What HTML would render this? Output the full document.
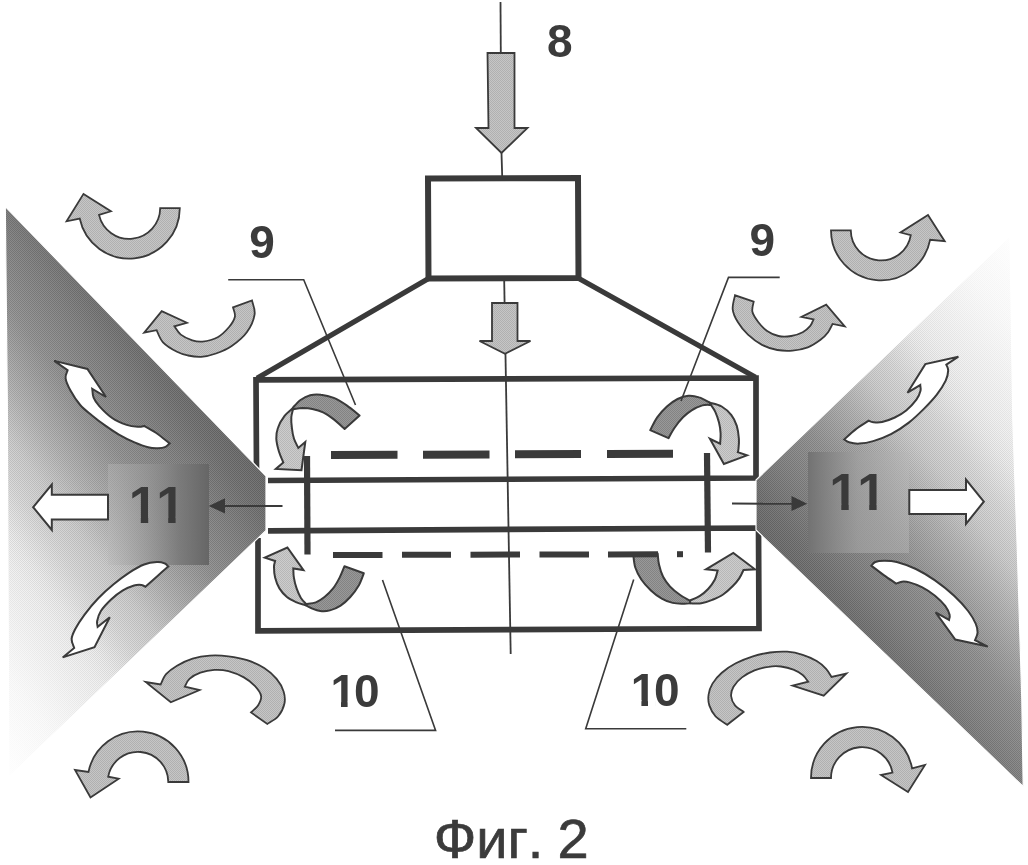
<!DOCTYPE html>
<html lang="ru">
<head>
<meta charset="utf-8">
<title>Фиг. 2</title>
<style>
html,body{margin:0;padding:0;background:#fff;}
body{width:1028px;height:865px;overflow:hidden;}
svg{display:block;}
text{font-family:"Liberation Sans",sans-serif;}
</style>
</head>
<body>
<svg width="1028" height="865" viewBox="0 0 1028 865">
<defs>
<pattern id="pc" width="2" height="2" patternUnits="userSpaceOnUse"><rect width="1" height="1" fill="#fff"/><rect x="1" y="1" width="1" height="1" fill="#fff"/></pattern>
<mask id="chk" maskUnits="userSpaceOnUse" x="0" y="0" width="1028" height="865"><rect width="1028" height="865" fill="url(#pc)"/></mask>
<linearGradient id="gl" gradientUnits="userSpaceOnUse" x1="5" y1="790" x2="325" y2="550"><stop offset="0.0" stop-color="#ffffff"/><stop offset="0.075" stop-color="#fdfdfd"/><stop offset="0.175" stop-color="#fafafa"/><stop offset="0.225" stop-color="#f7f7f7"/><stop offset="0.35" stop-color="#f0f0f0"/><stop offset="0.39" stop-color="#ededed"/><stop offset="0.465" stop-color="#dbdbdb"/><stop offset="0.535" stop-color="#cfcfcf"/><stop offset="0.615" stop-color="#b7b7b7"/><stop offset="0.68" stop-color="#a6a6a6"/><stop offset="0.733" stop-color="#999999"/><stop offset="0.843" stop-color="#898989"/><stop offset="0.925" stop-color="#7b7b7b"/><stop offset="1.0" stop-color="#737373"/></linearGradient>
<linearGradient id="gr" gradientUnits="userSpaceOnUse" x1="1017" y1="218.6" x2="697" y2="458.6"><stop offset="0.0" stop-color="#ffffff"/><stop offset="0.075" stop-color="#fdfdfd"/><stop offset="0.175" stop-color="#fafafa"/><stop offset="0.225" stop-color="#f7f7f7"/><stop offset="0.35" stop-color="#f0f0f0"/><stop offset="0.39" stop-color="#ededed"/><stop offset="0.465" stop-color="#dbdbdb"/><stop offset="0.535" stop-color="#cfcfcf"/><stop offset="0.615" stop-color="#b7b7b7"/><stop offset="0.68" stop-color="#a6a6a6"/><stop offset="0.733" stop-color="#999999"/><stop offset="0.843" stop-color="#898989"/><stop offset="0.925" stop-color="#7b7b7b"/><stop offset="1.0" stop-color="#737373"/></linearGradient>
<linearGradient id="gld" gradientUnits="userSpaceOnUse" x1="5" y1="790" x2="325" y2="550"><stop offset="0.0" stop-color="#ffffff"/><stop offset="0.075" stop-color="#fbfbfb"/><stop offset="0.175" stop-color="#f4f4f4"/><stop offset="0.225" stop-color="#efefef"/><stop offset="0.35" stop-color="#e0e0e0"/><stop offset="0.39" stop-color="#d7d7d7"/><stop offset="0.465" stop-color="#c5c5c5"/><stop offset="0.535" stop-color="#b9b9b9"/><stop offset="0.615" stop-color="#a1a1a1"/><stop offset="0.68" stop-color="#909090"/><stop offset="0.733" stop-color="#838383"/><stop offset="0.843" stop-color="#737373"/><stop offset="0.925" stop-color="#656565"/><stop offset="1.0" stop-color="#5d5d5d"/></linearGradient>
<linearGradient id="grd" gradientUnits="userSpaceOnUse" x1="1017" y1="218.6" x2="697" y2="458.6"><stop offset="0.0" stop-color="#ffffff"/><stop offset="0.075" stop-color="#fbfbfb"/><stop offset="0.175" stop-color="#f4f4f4"/><stop offset="0.225" stop-color="#efefef"/><stop offset="0.35" stop-color="#e0e0e0"/><stop offset="0.39" stop-color="#d7d7d7"/><stop offset="0.465" stop-color="#c5c5c5"/><stop offset="0.535" stop-color="#b9b9b9"/><stop offset="0.615" stop-color="#a1a1a1"/><stop offset="0.68" stop-color="#909090"/><stop offset="0.733" stop-color="#838383"/><stop offset="0.843" stop-color="#737373"/><stop offset="0.925" stop-color="#656565"/><stop offset="1.0" stop-color="#5d5d5d"/></linearGradient>
<linearGradient id="sl" x1="0" y1="0" x2="1" y2="0"><stop offset="0" stop-color="#b8b8b8" stop-opacity="0.4"/><stop offset="0.4" stop-color="#969696" stop-opacity="0.7"/><stop offset="0.7" stop-color="#7a7a7a" stop-opacity="0.9"/><stop offset="1" stop-color="#666666" stop-opacity="1"/></linearGradient>
<linearGradient id="sr" x1="1" y1="0" x2="0" y2="0"><stop offset="0" stop-color="#b8b8b8" stop-opacity="0.45"/><stop offset="0.5" stop-color="#a0a0a0" stop-opacity="0.75"/><stop offset="0.8" stop-color="#848484" stop-opacity="0.9"/><stop offset="1" stop-color="#727272" stop-opacity="1"/></linearGradient>
<clipPath id="c1"><rect x="329.4" y="661.2" width="26.8" height="40.4"/><rect x="341" y="701.3" width="6.6" height="6.9"/><rect x="355.3" y="661.2" width="25.8" height="55.2"/></clipPath>
<clipPath id="c2"><rect x="629.8" y="659.6" width="26.8" height="40.4"/><rect x="641.4" y="699.7" width="6.6" height="6.9"/><rect x="655.5" y="659.6" width="25.8" height="55.2"/></clipPath>
<clipPath id="c3"><rect x="127.8" y="471" width="30.1" height="45.8"/><rect x="140.8" y="516.5" width="7.4" height="7.5"/><rect x="155.2" y="471" width="30.1" height="45.8"/><rect x="168.2" y="516.5" width="7.4" height="7.5"/></clipPath>
<clipPath id="c4"><rect x="828.3" y="458" width="30.1" height="45.8"/><rect x="841.3" y="503.5" width="7.4" height="7.5"/><rect x="856.2" y="458" width="30.1" height="45.8"/><rect x="869.2" y="503.5" width="7.4" height="7.5"/></clipPath>
</defs>
<rect width="1028" height="865" fill="#ffffff"/>
<path d="M293,407.6C294.2,406.3 297.6,402.1 300.5,400C303.4,397.9 306.8,396.1 310.2,395.2C313.6,394.3 317,394.2 320.9,394.7C324.8,395.1 329.5,396.1 333.8,397.9C338.1,399.7 342.4,402.4 346.7,405.4C351,408.3 357.5,413.9 359.6,415.6L344.6,428.9C342.8,427.3 337.4,422.1 333.8,419.4C330.2,416.6 326.7,414.1 323.1,412.4C319.5,410.6 315.7,409.6 312.3,408.9C308.9,408.2 305.8,408.1 302.6,408.1C299.4,408.2 294.6,409 293,409.2Z" fill="#999999"/>
<path d="M293,408C291.6,409.4 286.9,412.9 284.4,416.2C281.9,419.5 279.2,424.2 277.9,428C276.5,431.8 276.1,434.9 276.3,438.8C276.5,442.8 277.8,447.8 279,451.7C280.2,455.6 282.6,460.6 283.3,462.4L275.8,468.9L301.5,470.2L305.3,442L298.3,447.9C297.6,446.4 295.1,442.1 294,438.8C292.9,435.5 292.3,431.6 291.9,428C291.4,424.4 291.1,420.4 291.3,417.3C291.5,414.2 292.7,410.6 293,409.2Z" fill="#cdcdcd"/>
<path d="M709.9,402.7C708.1,401.8 702.7,398.5 699.1,397.4C695.5,396.2 692,395.5 688.4,395.8C684.8,396.1 681.2,397.2 677.6,399C674,400.8 670.3,403.4 666.9,406.5C663.5,409.6 660,413.4 657.2,417.3C654.4,421.2 651.4,428.1 650.2,430.2L668.5,438.2C669.5,436.5 672,431.5 674.4,428C676.8,424.5 680.1,420.2 683,417.3C685.9,414.4 688.4,412.3 691.6,410.3C694.8,408.3 699.2,406.3 702.4,405.4C705.6,404.5 709.6,405 711,404.9Z" fill="#999999"/>
<path d="M709.9,402.7C711.9,403.3 718.1,404.4 721.7,406.5C725.3,408.6 728.9,411.9 731.4,415.1C733.9,418.3 735.5,421.9 736.8,425.9C738,429.8 738.6,434.9 738.9,438.8C739.2,442.7 738.6,447.3 738.4,449.5C738.2,451.7 737.9,451.8 737.8,452.2L747,455.4L723.9,464L709.9,438.8L720.1,443.6C720.2,441.9 720.8,436.9 720.6,433.4C720.4,429.9 719.9,426.2 719,422.6C718.1,419 716.6,414.8 715.3,411.9C714,408.9 711.7,406.1 711,404.9Z" fill="#cdcdcd"/>
<path d="M305.2,605.1C306.3,605.6 309.1,607.3 311.6,608.3C314.1,609.3 317.1,610.6 320.2,611C323.2,611.4 326.5,611.3 329.9,610.4C333.3,609.5 337.2,607.8 340.6,605.6C344,603.4 347.2,600.4 350.3,597C353.4,593.6 356.6,589.2 358.9,585.2C361.1,581.2 363,575.3 363.8,573.3L344.4,566.3C343.6,568.2 341.5,573.9 339.6,577.6C337.7,581.3 335.6,585.2 333.1,588.4C330.6,591.6 327.4,594.7 324.5,597C321.6,599.3 318.9,601.2 315.9,602.4C312.8,603.6 307.8,603.7 306.2,604Z" fill="#999999"/>
<path d="M305.2,605.1C303.8,604.6 299.7,603.8 296.6,602.4C293.6,601 289.8,599.3 286.9,597C284,594.7 281.4,591.6 279.4,588.4C277.4,585.2 276,581.2 275.1,577.6C274.2,574 274,569.7 274,566.9C274,564.1 274.9,562 275.1,561L264.8,557.7L287.4,547.5L303.5,570.1L293.3,568.5C293.4,570 293.3,574.3 293.9,577.6C294.4,580.9 295.4,585 296.6,588.4C297.8,591.8 299.3,595.4 300.9,598C302.5,600.6 305.3,603 306.2,604Z" fill="#cdcdcd"/>
<path d="M690.4,603.3C689.3,603.4 686.5,603.8 683.6,603.7C680.7,603.6 676.3,603.8 672.7,602.9C669.1,602 665.4,600.7 661.8,598.6C658.2,596.5 654.3,593.6 650.9,590.4C647.5,587.2 643.9,583.4 641.3,579.5C638.7,575.6 636.6,571.5 635.2,567.2C633.9,562.9 633.5,555.9 633.2,553.6L657.7,553.6C657.9,555.4 658.1,560.6 659,564.5C659.9,568.4 661.3,573.2 663.1,576.8C664.9,580.4 667.2,583.3 669.9,586.3C672.6,589.2 676.2,592.1 679.5,594.5C682.8,596.9 688,599.6 689.7,600.6Z" fill="#999999"/>
<path d="M690.4,603.3C692.2,603.3 697.7,603.9 701.3,603.3C704.9,602.7 708.6,601.4 712.2,599.9C715.8,598.4 719.7,596.8 723.1,594.5C726.5,592.2 729.9,589 732.6,586.3C735.3,583.6 737.6,580.8 739.4,578.1C741.2,575.4 742.8,571.4 743.5,570L755,569.3L733.3,552.9L706,569.3L717.6,570.6C717.1,572.1 716.5,576.4 714.9,579.5C713.3,582.6 710.6,586.3 708.1,589C705.6,591.7 703,593.9 699.9,595.8C696.8,597.7 691.4,599.8 689.7,600.6Z" fill="#cdcdcd"/>
<g mask="url(#chk)">
<path d="M293,407.6C294.2,406.3 297.6,402.1 300.5,400C303.4,397.9 306.8,396.1 310.2,395.2C313.6,394.3 317,394.2 320.9,394.7C324.8,395.1 329.5,396.1 333.8,397.9C338.1,399.7 342.4,402.4 346.7,405.4C351,408.3 357.5,413.9 359.6,415.6L344.6,428.9C342.8,427.3 337.4,422.1 333.8,419.4C330.2,416.6 326.7,414.1 323.1,412.4C319.5,410.6 315.7,409.6 312.3,408.9C308.9,408.2 305.8,408.1 302.6,408.1C299.4,408.2 294.6,409 293,409.2Z" fill="#838383"/>
<path d="M293,408C291.6,409.4 286.9,412.9 284.4,416.2C281.9,419.5 279.2,424.2 277.9,428C276.5,431.8 276.1,434.9 276.3,438.8C276.5,442.8 277.8,447.8 279,451.7C280.2,455.6 282.6,460.6 283.3,462.4L275.8,468.9L301.5,470.2L305.3,442L298.3,447.9C297.6,446.4 295.1,442.1 294,438.8C292.9,435.5 292.3,431.6 291.9,428C291.4,424.4 291.1,420.4 291.3,417.3C291.5,414.2 292.7,410.6 293,409.2Z" fill="#b7b7b7"/>
<path d="M709.9,402.7C708.1,401.8 702.7,398.5 699.1,397.4C695.5,396.2 692,395.5 688.4,395.8C684.8,396.1 681.2,397.2 677.6,399C674,400.8 670.3,403.4 666.9,406.5C663.5,409.6 660,413.4 657.2,417.3C654.4,421.2 651.4,428.1 650.2,430.2L668.5,438.2C669.5,436.5 672,431.5 674.4,428C676.8,424.5 680.1,420.2 683,417.3C685.9,414.4 688.4,412.3 691.6,410.3C694.8,408.3 699.2,406.3 702.4,405.4C705.6,404.5 709.6,405 711,404.9Z" fill="#838383"/>
<path d="M709.9,402.7C711.9,403.3 718.1,404.4 721.7,406.5C725.3,408.6 728.9,411.9 731.4,415.1C733.9,418.3 735.5,421.9 736.8,425.9C738,429.8 738.6,434.9 738.9,438.8C739.2,442.7 738.6,447.3 738.4,449.5C738.2,451.7 737.9,451.8 737.8,452.2L747,455.4L723.9,464L709.9,438.8L720.1,443.6C720.2,441.9 720.8,436.9 720.6,433.4C720.4,429.9 719.9,426.2 719,422.6C718.1,419 716.6,414.8 715.3,411.9C714,408.9 711.7,406.1 711,404.9Z" fill="#b7b7b7"/>
<path d="M305.2,605.1C306.3,605.6 309.1,607.3 311.6,608.3C314.1,609.3 317.1,610.6 320.2,611C323.2,611.4 326.5,611.3 329.9,610.4C333.3,609.5 337.2,607.8 340.6,605.6C344,603.4 347.2,600.4 350.3,597C353.4,593.6 356.6,589.2 358.9,585.2C361.1,581.2 363,575.3 363.8,573.3L344.4,566.3C343.6,568.2 341.5,573.9 339.6,577.6C337.7,581.3 335.6,585.2 333.1,588.4C330.6,591.6 327.4,594.7 324.5,597C321.6,599.3 318.9,601.2 315.9,602.4C312.8,603.6 307.8,603.7 306.2,604Z" fill="#838383"/>
<path d="M305.2,605.1C303.8,604.6 299.7,603.8 296.6,602.4C293.6,601 289.8,599.3 286.9,597C284,594.7 281.4,591.6 279.4,588.4C277.4,585.2 276,581.2 275.1,577.6C274.2,574 274,569.7 274,566.9C274,564.1 274.9,562 275.1,561L264.8,557.7L287.4,547.5L303.5,570.1L293.3,568.5C293.4,570 293.3,574.3 293.9,577.6C294.4,580.9 295.4,585 296.6,588.4C297.8,591.8 299.3,595.4 300.9,598C302.5,600.6 305.3,603 306.2,604Z" fill="#b7b7b7"/>
<path d="M690.4,603.3C689.3,603.4 686.5,603.8 683.6,603.7C680.7,603.6 676.3,603.8 672.7,602.9C669.1,602 665.4,600.7 661.8,598.6C658.2,596.5 654.3,593.6 650.9,590.4C647.5,587.2 643.9,583.4 641.3,579.5C638.7,575.6 636.6,571.5 635.2,567.2C633.9,562.9 633.5,555.9 633.2,553.6L657.7,553.6C657.9,555.4 658.1,560.6 659,564.5C659.9,568.4 661.3,573.2 663.1,576.8C664.9,580.4 667.2,583.3 669.9,586.3C672.6,589.2 676.2,592.1 679.5,594.5C682.8,596.9 688,599.6 689.7,600.6Z" fill="#838383"/>
<path d="M690.4,603.3C692.2,603.3 697.7,603.9 701.3,603.3C704.9,602.7 708.6,601.4 712.2,599.9C715.8,598.4 719.7,596.8 723.1,594.5C726.5,592.2 729.9,589 732.6,586.3C735.3,583.6 737.6,580.8 739.4,578.1C741.2,575.4 742.8,571.4 743.5,570L755,569.3L733.3,552.9L706,569.3L717.6,570.6C717.1,572.1 716.5,576.4 714.9,579.5C713.3,582.6 710.6,586.3 708.1,589C705.6,591.7 703,593.9 699.9,595.8C696.8,597.7 691.4,599.8 689.7,600.6Z" fill="#b7b7b7"/>
</g>
<path d="M293,407.6C294.2,406.3 297.6,402.1 300.5,400C303.4,397.9 306.8,396.1 310.2,395.2C313.6,394.3 317,394.2 320.9,394.7C324.8,395.1 329.5,396.1 333.8,397.9C338.1,399.7 342.4,402.4 346.7,405.4C351,408.3 357.5,413.9 359.6,415.6L344.6,428.9C342.8,427.3 337.4,422.1 333.8,419.4C330.2,416.6 326.7,414.1 323.1,412.4C319.5,410.6 315.7,409.6 312.3,408.9C308.9,408.2 305.8,408.1 302.6,408.1C299.4,408.2 294.6,409 293,409.2Z" fill="none" stroke="#3a3a3a" stroke-width="2" stroke-linejoin="round"/>
<path d="M293,408C291.6,409.4 286.9,412.9 284.4,416.2C281.9,419.5 279.2,424.2 277.9,428C276.5,431.8 276.1,434.9 276.3,438.8C276.5,442.8 277.8,447.8 279,451.7C280.2,455.6 282.6,460.6 283.3,462.4L275.8,468.9L301.5,470.2L305.3,442L298.3,447.9C297.6,446.4 295.1,442.1 294,438.8C292.9,435.5 292.3,431.6 291.9,428C291.4,424.4 291.1,420.4 291.3,417.3C291.5,414.2 292.7,410.6 293,409.2Z" fill="none" stroke="#3a3a3a" stroke-width="2" stroke-linejoin="miter"/>
<path d="M709.9,402.7C708.1,401.8 702.7,398.5 699.1,397.4C695.5,396.2 692,395.5 688.4,395.8C684.8,396.1 681.2,397.2 677.6,399C674,400.8 670.3,403.4 666.9,406.5C663.5,409.6 660,413.4 657.2,417.3C654.4,421.2 651.4,428.1 650.2,430.2L668.5,438.2C669.5,436.5 672,431.5 674.4,428C676.8,424.5 680.1,420.2 683,417.3C685.9,414.4 688.4,412.3 691.6,410.3C694.8,408.3 699.2,406.3 702.4,405.4C705.6,404.5 709.6,405 711,404.9Z" fill="none" stroke="#3a3a3a" stroke-width="2" stroke-linejoin="round"/>
<path d="M709.9,402.7C711.9,403.3 718.1,404.4 721.7,406.5C725.3,408.6 728.9,411.9 731.4,415.1C733.9,418.3 735.5,421.9 736.8,425.9C738,429.8 738.6,434.9 738.9,438.8C739.2,442.7 738.6,447.3 738.4,449.5C738.2,451.7 737.9,451.8 737.8,452.2L747,455.4L723.9,464L709.9,438.8L720.1,443.6C720.2,441.9 720.8,436.9 720.6,433.4C720.4,429.9 719.9,426.2 719,422.6C718.1,419 716.6,414.8 715.3,411.9C714,408.9 711.7,406.1 711,404.9Z" fill="none" stroke="#3a3a3a" stroke-width="2" stroke-linejoin="miter"/>
<path d="M305.2,605.1C306.3,605.6 309.1,607.3 311.6,608.3C314.1,609.3 317.1,610.6 320.2,611C323.2,611.4 326.5,611.3 329.9,610.4C333.3,609.5 337.2,607.8 340.6,605.6C344,603.4 347.2,600.4 350.3,597C353.4,593.6 356.6,589.2 358.9,585.2C361.1,581.2 363,575.3 363.8,573.3L344.4,566.3C343.6,568.2 341.5,573.9 339.6,577.6C337.7,581.3 335.6,585.2 333.1,588.4C330.6,591.6 327.4,594.7 324.5,597C321.6,599.3 318.9,601.2 315.9,602.4C312.8,603.6 307.8,603.7 306.2,604Z" fill="none" stroke="#3a3a3a" stroke-width="2" stroke-linejoin="round"/>
<path d="M305.2,605.1C303.8,604.6 299.7,603.8 296.6,602.4C293.6,601 289.8,599.3 286.9,597C284,594.7 281.4,591.6 279.4,588.4C277.4,585.2 276,581.2 275.1,577.6C274.2,574 274,569.7 274,566.9C274,564.1 274.9,562 275.1,561L264.8,557.7L287.4,547.5L303.5,570.1L293.3,568.5C293.4,570 293.3,574.3 293.9,577.6C294.4,580.9 295.4,585 296.6,588.4C297.8,591.8 299.3,595.4 300.9,598C302.5,600.6 305.3,603 306.2,604Z" fill="none" stroke="#3a3a3a" stroke-width="2" stroke-linejoin="miter"/>
<path d="M690.4,603.3C689.3,603.4 686.5,603.8 683.6,603.7C680.7,603.6 676.3,603.8 672.7,602.9C669.1,602 665.4,600.7 661.8,598.6C658.2,596.5 654.3,593.6 650.9,590.4C647.5,587.2 643.9,583.4 641.3,579.5C638.7,575.6 636.6,571.5 635.2,567.2C633.9,562.9 633.5,555.9 633.2,553.6L657.7,553.6C657.9,555.4 658.1,560.6 659,564.5C659.9,568.4 661.3,573.2 663.1,576.8C664.9,580.4 667.2,583.3 669.9,586.3C672.6,589.2 676.2,592.1 679.5,594.5C682.8,596.9 688,599.6 689.7,600.6Z" fill="none" stroke="#3a3a3a" stroke-width="2" stroke-linejoin="round"/>
<path d="M690.4,603.3C692.2,603.3 697.7,603.9 701.3,603.3C704.9,602.7 708.6,601.4 712.2,599.9C715.8,598.4 719.7,596.8 723.1,594.5C726.5,592.2 729.9,589 732.6,586.3C735.3,583.6 737.6,580.8 739.4,578.1C741.2,575.4 742.8,571.4 743.5,570L755,569.3L733.3,552.9L706,569.3L717.6,570.6C717.1,572.1 716.5,576.4 714.9,579.5C713.3,582.6 710.6,586.3 708.1,589C705.6,591.7 703,593.9 699.9,595.8C696.8,597.7 691.4,599.8 689.7,600.6Z" fill="none" stroke="#3a3a3a" stroke-width="2" stroke-linejoin="miter"/>
<line x1="500.5" y1="2" x2="500.8" y2="53" stroke="#3a3a3a" stroke-width="1.8" />
<line x1="501.5" y1="153" x2="502.2" y2="176" stroke="#3a3a3a" stroke-width="1.8" />
<line x1="504.2" y1="281" x2="510.7" y2="654" stroke="#3a3a3a" stroke-width="1.8" />
<path d="M428,178.5 L578,178 L578.5,278 L428.5,278.5 Z" fill="none" stroke="#3a3a3a" stroke-width="6" stroke-linejoin="miter"/>
<path d="M429,278.3 L257,378.2 M578,278 L755.5,377.3" fill="none" stroke="#3a3a3a" stroke-width="5.3"/>
<path d="M256.5,470 L256,379.8 L756,378 L756,478 L268,480.5" fill="none" stroke="#3a3a3a" stroke-width="5.7" stroke-linejoin="miter"/>
<path d="M268,530.8 L758.5,528 L759,628.5 L258,630.8 L258,538" fill="none" stroke="#3a3a3a" stroke-width="5.7" stroke-linejoin="miter"/>
<line x1="307" y1="456" x2="307.5" y2="554.5" stroke="#3a3a3a" stroke-width="6.2" />
<line x1="707" y1="453" x2="708" y2="552.5" stroke="#3a3a3a" stroke-width="6.2" />
<line x1="331" y1="455" x2="397.5" y2="454.7" stroke="#3a3a3a" stroke-width="8" />
<line x1="423" y1="454.7" x2="489.5" y2="454.4" stroke="#3a3a3a" stroke-width="8" />
<line x1="515" y1="454.3" x2="581" y2="454" stroke="#3a3a3a" stroke-width="8" />
<line x1="607" y1="454" x2="673" y2="453.7" stroke="#3a3a3a" stroke-width="8" />
<line x1="333" y1="555" x2="382.5" y2="554.9" stroke="#3a3a3a" stroke-width="6" />
<line x1="402" y1="554.8" x2="451" y2="554.7" stroke="#3a3a3a" stroke-width="6" />
<line x1="470.5" y1="554.7" x2="520" y2="554.6" stroke="#3a3a3a" stroke-width="6" />
<line x1="539.5" y1="554.5" x2="589" y2="554.4" stroke="#3a3a3a" stroke-width="6" />
<line x1="608" y1="554.4" x2="658" y2="554.3" stroke="#3a3a3a" stroke-width="6" />
<line x1="677" y1="554.2" x2="683" y2="554.2" stroke="#3a3a3a" stroke-width="6" />
<path d="M5.3,206.5 L266,476 L266,530.5 L8.8,777 L7.3,400Z" fill="url(#gl)"/>
<path d="M1010,236 L756,480 L756,530 L1023.2,786.5 L1021.8,700 L1017.3,550 L1012.8,420Z" fill="url(#gr)"/>
<rect x="108" y="464" width="101" height="101" fill="url(#sl)"/><rect x="808" y="452" width="101" height="101" fill="url(#sr)"/>
<g mask="url(#chk)">
<path d="M5.3,206.5 L266,476 L266,530.5 L8.8,777 L7.3,400Z" fill="url(#gld)"/>
<path d="M1010,236 L756,480 L756,530 L1023.2,786.5 L1021.8,700 L1017.3,550 L1012.8,420Z" fill="url(#grd)"/>
<rect x="108" y="464" width="101" height="101" fill="url(#sl)"/><rect x="808" y="452" width="101" height="101" fill="url(#sr)"/>
</g>
<path d="M5.3,206.5 L266,476 L266,530.5 L8.8,777 L7.3,400ZM1010,236 L756,480 L756,530 L1023.2,786.5 L1021.8,700 L1017.3,550 L1012.8,420Z" fill="none" stroke="#fff" stroke-width="1.2"/>
<path d="M487.5,53 L514.5,53 L514.5,128 L527.5,128 L501.5,153 L476,128 L488.5,128Z" fill="#c6c6c6"/>
<path d="M492,303 L517.5,303 L517.5,341 L530.5,341 L505,353.7 L479.5,341 L492,341Z" fill="#c6c6c6"/>
<path d="M160.2,208.1 L179.8,208.2 A50.6,50.6 0 0 1 79.7,218.5 L66.6,221.3 L83.5,193.9 L110.9,211.3 L99,214.9 A31,31 0 0 0 160.2,208.1Z" fill="#c6c6c6"/>
<path d="M850.8,230.4 L831,230.4 A50,50 0 0 0 930.1,239.8 L944.7,241.2 L928,215 L900.5,232.5 L910.8,235.1 A30.2,30.2 0 0 1 850.8,230.4Z" fill="#c6c6c6"/>
<path d="M168.3,782 L188.5,782 A50.5,50.5 0 0 0 88.5,771.9 L75,770 L90.5,797.5 L118.7,778.7 L108.2,776.7 A30.3,30.3 0 0 1 168.3,782Z" fill="#c6c6c6"/>
<path d="M831,778 L811,778 A51,51 0 0 1 912.1,768.3 L925,765 L908,792 L881,775 L892.5,772.6 A31,31 0 0 0 831,778Z" fill="#c6c6c6"/>
<path d="M252,300.5C252.4,302.8 255.4,309.1 254.6,314.3C253.8,319.6 250.8,326.7 247,332C243.2,337.3 236.9,342.4 231.7,346C226.5,349.6 221.1,351.7 216,353.5C210.9,355.3 205.9,356.6 201.2,356.9C196.5,357.2 192,356.4 188,355.5C184,354.6 181.2,354 177,351.8C172.8,349.6 166.4,345.9 163,342.3C159.6,338.7 157.7,332.2 156.6,330.2L144.2,332.7L161.7,311.1L186.9,322.8L174.4,326.3C175.5,327.7 177.8,332.3 180.8,334.6C183.8,336.9 188.7,339.1 192.3,340.3C195.9,341.5 198.2,342.1 202.4,341.6C206.6,341.1 213.2,339.6 217.7,337.2C222.1,334.8 226.2,330.4 229.1,327C232,323.6 234.2,320.1 234.9,316.8C235.6,313.5 233.3,308.9 233,307.3Z" fill="#c6c6c6"/>
<path d="M735,295.3C734.6,297.6 732.2,304.9 732.7,309.3C733.2,313.8 735.2,317.8 737.8,322C740.3,326.2 744,330.9 748,334.7C752,338.5 757.1,342.3 762,344.9C766.9,347.4 772.2,349.1 777.3,350C782.4,350.9 787.4,351 792.5,350.6C797.6,350.2 803.1,349.2 807.8,347.4C812.5,345.6 817.1,342.3 820.5,339.8C823.9,337.3 826.1,334.9 828.1,332.2C830.1,329.5 831.9,325.3 832.6,323.9L844.7,326.4L826.2,304.6L801.4,316.9L813.5,319.4C813,320.5 812.1,323.7 810.3,325.8C808.5,327.9 805.9,330.5 802.7,332.2C799.5,333.9 795.2,335.4 791.2,336C787.2,336.6 782.5,336.9 778.5,336C774.5,335.1 770.5,333.2 767.1,330.9C763.7,328.6 760.7,325.2 758.2,322C755.8,318.8 753.1,315.2 752.4,311.8C751.6,308.4 753.5,303.3 753.7,301.6Z" fill="#c6c6c6"/>
<path d="M267.3,724C269.1,722.7 275.4,719.7 278.2,716.3C281,712.9 283.5,707.9 284.4,703.8C285.3,699.6 284.9,695.5 283.6,691.4C282.3,687.2 279.8,682.8 276.6,678.9C273.4,675 269.1,671.1 264.2,668C259.3,664.9 253.1,662.2 247.1,660.2C241.1,658.2 234.6,657.1 228.4,656.3C222.2,655.5 215.7,655.2 209.7,655.6C203.7,656 198,657 192.6,658.7C187.2,660.4 181.4,663.1 177,665.7C172.6,668.3 168.8,671.1 166.1,674.2C163.4,677.3 161.6,682.7 160.7,684.4L145.6,682L170.8,702.3L199.6,690.1L184.8,686.7C185.6,685.4 186.9,681.2 189.5,678.9C192.1,676.6 196.2,674.2 200.4,672.7C204.6,671.2 209.7,670.2 214.4,669.9C219.1,669.6 223.5,669.9 228.4,671.1C233.3,672.4 239.5,674.9 243.9,677.4C248.3,679.9 251.9,682.8 254.8,685.9C257.7,689 260.6,692.8 261.1,696C261.6,699.2 259.7,702.7 258,705.4C256.3,708.1 252.2,711.2 251,712.4Z" fill="#c6c6c6"/>
<path d="M727.2,724.8C725.3,723.4 718.6,719.5 715.6,716.3C712.6,713.1 710.5,709 709.3,705.4C708.1,701.8 708.1,698.1 708.6,694.5C709.1,690.9 710.3,687.2 712.5,683.6C714.7,680 717.9,676.1 721.8,672.7C725.7,669.3 730.6,666 735.8,663.3C741,660.6 747.2,658.1 752.9,656.3C758.6,654.5 764.3,653.3 770,652.5C775.7,651.7 781.8,651.3 787.2,651.7C792.7,652.1 797.8,653.2 802.7,654.8C807.6,656.3 812.8,658.7 816.7,661C820.6,663.3 823.6,666.1 826.1,668.8C828.6,671.5 830.6,675.6 831.5,677L846.3,673.5L823.7,695.7L792.6,685.6L808.2,681.7C807.3,680.6 805.2,677 802.7,675C800.2,673 797,671 793.4,669.6C789.8,668.2 785,667 780.9,666.5C776.8,666 772.9,666.1 768.5,666.8C764.1,667.4 758.9,668.6 754.5,670.4C750.1,672.2 745.5,674.7 742,677.4C738.5,680.1 735.3,683.6 733.5,686.7C731.7,689.8 730.9,692.9 731.1,696C731.4,699.1 732.9,702.8 735,705.4C737.1,708 742.2,710.8 743.6,711.9Z" fill="#c6c6c6"/>
<g mask="url(#chk)">
<path d="M487.5,53 L514.5,53 L514.5,128 L527.5,128 L501.5,153 L476,128 L488.5,128Z" fill="#b0b0b0"/>
<path d="M492,303 L517.5,303 L517.5,341 L530.5,341 L505,353.7 L479.5,341 L492,341Z" fill="#b0b0b0"/>
<path d="M160.2,208.1 L179.8,208.2 A50.6,50.6 0 0 1 79.7,218.5 L66.6,221.3 L83.5,193.9 L110.9,211.3 L99,214.9 A31,31 0 0 0 160.2,208.1Z" fill="#b0b0b0"/>
<path d="M850.8,230.4 L831,230.4 A50,50 0 0 0 930.1,239.8 L944.7,241.2 L928,215 L900.5,232.5 L910.8,235.1 A30.2,30.2 0 0 1 850.8,230.4Z" fill="#b0b0b0"/>
<path d="M168.3,782 L188.5,782 A50.5,50.5 0 0 0 88.5,771.9 L75,770 L90.5,797.5 L118.7,778.7 L108.2,776.7 A30.3,30.3 0 0 1 168.3,782Z" fill="#b0b0b0"/>
<path d="M831,778 L811,778 A51,51 0 0 1 912.1,768.3 L925,765 L908,792 L881,775 L892.5,772.6 A31,31 0 0 0 831,778Z" fill="#b0b0b0"/>
<path d="M252,300.5C252.4,302.8 255.4,309.1 254.6,314.3C253.8,319.6 250.8,326.7 247,332C243.2,337.3 236.9,342.4 231.7,346C226.5,349.6 221.1,351.7 216,353.5C210.9,355.3 205.9,356.6 201.2,356.9C196.5,357.2 192,356.4 188,355.5C184,354.6 181.2,354 177,351.8C172.8,349.6 166.4,345.9 163,342.3C159.6,338.7 157.7,332.2 156.6,330.2L144.2,332.7L161.7,311.1L186.9,322.8L174.4,326.3C175.5,327.7 177.8,332.3 180.8,334.6C183.8,336.9 188.7,339.1 192.3,340.3C195.9,341.5 198.2,342.1 202.4,341.6C206.6,341.1 213.2,339.6 217.7,337.2C222.1,334.8 226.2,330.4 229.1,327C232,323.6 234.2,320.1 234.9,316.8C235.6,313.5 233.3,308.9 233,307.3Z" fill="#b0b0b0"/>
<path d="M735,295.3C734.6,297.6 732.2,304.9 732.7,309.3C733.2,313.8 735.2,317.8 737.8,322C740.3,326.2 744,330.9 748,334.7C752,338.5 757.1,342.3 762,344.9C766.9,347.4 772.2,349.1 777.3,350C782.4,350.9 787.4,351 792.5,350.6C797.6,350.2 803.1,349.2 807.8,347.4C812.5,345.6 817.1,342.3 820.5,339.8C823.9,337.3 826.1,334.9 828.1,332.2C830.1,329.5 831.9,325.3 832.6,323.9L844.7,326.4L826.2,304.6L801.4,316.9L813.5,319.4C813,320.5 812.1,323.7 810.3,325.8C808.5,327.9 805.9,330.5 802.7,332.2C799.5,333.9 795.2,335.4 791.2,336C787.2,336.6 782.5,336.9 778.5,336C774.5,335.1 770.5,333.2 767.1,330.9C763.7,328.6 760.7,325.2 758.2,322C755.8,318.8 753.1,315.2 752.4,311.8C751.6,308.4 753.5,303.3 753.7,301.6Z" fill="#b0b0b0"/>
<path d="M267.3,724C269.1,722.7 275.4,719.7 278.2,716.3C281,712.9 283.5,707.9 284.4,703.8C285.3,699.6 284.9,695.5 283.6,691.4C282.3,687.2 279.8,682.8 276.6,678.9C273.4,675 269.1,671.1 264.2,668C259.3,664.9 253.1,662.2 247.1,660.2C241.1,658.2 234.6,657.1 228.4,656.3C222.2,655.5 215.7,655.2 209.7,655.6C203.7,656 198,657 192.6,658.7C187.2,660.4 181.4,663.1 177,665.7C172.6,668.3 168.8,671.1 166.1,674.2C163.4,677.3 161.6,682.7 160.7,684.4L145.6,682L170.8,702.3L199.6,690.1L184.8,686.7C185.6,685.4 186.9,681.2 189.5,678.9C192.1,676.6 196.2,674.2 200.4,672.7C204.6,671.2 209.7,670.2 214.4,669.9C219.1,669.6 223.5,669.9 228.4,671.1C233.3,672.4 239.5,674.9 243.9,677.4C248.3,679.9 251.9,682.8 254.8,685.9C257.7,689 260.6,692.8 261.1,696C261.6,699.2 259.7,702.7 258,705.4C256.3,708.1 252.2,711.2 251,712.4Z" fill="#b0b0b0"/>
<path d="M727.2,724.8C725.3,723.4 718.6,719.5 715.6,716.3C712.6,713.1 710.5,709 709.3,705.4C708.1,701.8 708.1,698.1 708.6,694.5C709.1,690.9 710.3,687.2 712.5,683.6C714.7,680 717.9,676.1 721.8,672.7C725.7,669.3 730.6,666 735.8,663.3C741,660.6 747.2,658.1 752.9,656.3C758.6,654.5 764.3,653.3 770,652.5C775.7,651.7 781.8,651.3 787.2,651.7C792.7,652.1 797.8,653.2 802.7,654.8C807.6,656.3 812.8,658.7 816.7,661C820.6,663.3 823.6,666.1 826.1,668.8C828.6,671.5 830.6,675.6 831.5,677L846.3,673.5L823.7,695.7L792.6,685.6L808.2,681.7C807.3,680.6 805.2,677 802.7,675C800.2,673 797,671 793.4,669.6C789.8,668.2 785,667 780.9,666.5C776.8,666 772.9,666.1 768.5,666.8C764.1,667.4 758.9,668.6 754.5,670.4C750.1,672.2 745.5,674.7 742,677.4C738.5,680.1 735.3,683.6 733.5,686.7C731.7,689.8 730.9,692.9 731.1,696C731.4,699.1 732.9,702.8 735,705.4C737.1,708 742.2,710.8 743.6,711.9Z" fill="#b0b0b0"/>
</g>
<path d="M487.5,53 L514.5,53 L514.5,128 L527.5,128 L501.5,153 L476,128 L488.5,128Z" fill="none" stroke="#3a3a3a" stroke-width="1.8" stroke-linejoin="miter"/>
<path d="M492,303 L517.5,303 L517.5,341 L530.5,341 L505,353.7 L479.5,341 L492,341Z" fill="none" stroke="#3a3a3a" stroke-width="1.8" stroke-linejoin="miter"/>
<path d="M160.2,208.1 L179.8,208.2 A50.6,50.6 0 0 1 79.7,218.5 L66.6,221.3 L83.5,193.9 L110.9,211.3 L99,214.9 A31,31 0 0 0 160.2,208.1Z" fill="none" stroke="#3a3a3a" stroke-width="1.8" stroke-linejoin="miter"/>
<path d="M850.8,230.4 L831,230.4 A50,50 0 0 0 930.1,239.8 L944.7,241.2 L928,215 L900.5,232.5 L910.8,235.1 A30.2,30.2 0 0 1 850.8,230.4Z" fill="none" stroke="#3a3a3a" stroke-width="1.8" stroke-linejoin="miter"/>
<path d="M168.3,782 L188.5,782 A50.5,50.5 0 0 0 88.5,771.9 L75,770 L90.5,797.5 L118.7,778.7 L108.2,776.7 A30.3,30.3 0 0 1 168.3,782Z" fill="none" stroke="#3a3a3a" stroke-width="1.8" stroke-linejoin="miter"/>
<path d="M831,778 L811,778 A51,51 0 0 1 912.1,768.3 L925,765 L908,792 L881,775 L892.5,772.6 A31,31 0 0 0 831,778Z" fill="none" stroke="#3a3a3a" stroke-width="1.8" stroke-linejoin="miter"/>
<path d="M252,300.5C252.4,302.8 255.4,309.1 254.6,314.3C253.8,319.6 250.8,326.7 247,332C243.2,337.3 236.9,342.4 231.7,346C226.5,349.6 221.1,351.7 216,353.5C210.9,355.3 205.9,356.6 201.2,356.9C196.5,357.2 192,356.4 188,355.5C184,354.6 181.2,354 177,351.8C172.8,349.6 166.4,345.9 163,342.3C159.6,338.7 157.7,332.2 156.6,330.2L144.2,332.7L161.7,311.1L186.9,322.8L174.4,326.3C175.5,327.7 177.8,332.3 180.8,334.6C183.8,336.9 188.7,339.1 192.3,340.3C195.9,341.5 198.2,342.1 202.4,341.6C206.6,341.1 213.2,339.6 217.7,337.2C222.1,334.8 226.2,330.4 229.1,327C232,323.6 234.2,320.1 234.9,316.8C235.6,313.5 233.3,308.9 233,307.3Z" fill="none" stroke="#3a3a3a" stroke-width="1.8" stroke-linejoin="miter"/>
<path d="M735,295.3C734.6,297.6 732.2,304.9 732.7,309.3C733.2,313.8 735.2,317.8 737.8,322C740.3,326.2 744,330.9 748,334.7C752,338.5 757.1,342.3 762,344.9C766.9,347.4 772.2,349.1 777.3,350C782.4,350.9 787.4,351 792.5,350.6C797.6,350.2 803.1,349.2 807.8,347.4C812.5,345.6 817.1,342.3 820.5,339.8C823.9,337.3 826.1,334.9 828.1,332.2C830.1,329.5 831.9,325.3 832.6,323.9L844.7,326.4L826.2,304.6L801.4,316.9L813.5,319.4C813,320.5 812.1,323.7 810.3,325.8C808.5,327.9 805.9,330.5 802.7,332.2C799.5,333.9 795.2,335.4 791.2,336C787.2,336.6 782.5,336.9 778.5,336C774.5,335.1 770.5,333.2 767.1,330.9C763.7,328.6 760.7,325.2 758.2,322C755.8,318.8 753.1,315.2 752.4,311.8C751.6,308.4 753.5,303.3 753.7,301.6Z" fill="none" stroke="#3a3a3a" stroke-width="1.8" stroke-linejoin="miter"/>
<path d="M267.3,724C269.1,722.7 275.4,719.7 278.2,716.3C281,712.9 283.5,707.9 284.4,703.8C285.3,699.6 284.9,695.5 283.6,691.4C282.3,687.2 279.8,682.8 276.6,678.9C273.4,675 269.1,671.1 264.2,668C259.3,664.9 253.1,662.2 247.1,660.2C241.1,658.2 234.6,657.1 228.4,656.3C222.2,655.5 215.7,655.2 209.7,655.6C203.7,656 198,657 192.6,658.7C187.2,660.4 181.4,663.1 177,665.7C172.6,668.3 168.8,671.1 166.1,674.2C163.4,677.3 161.6,682.7 160.7,684.4L145.6,682L170.8,702.3L199.6,690.1L184.8,686.7C185.6,685.4 186.9,681.2 189.5,678.9C192.1,676.6 196.2,674.2 200.4,672.7C204.6,671.2 209.7,670.2 214.4,669.9C219.1,669.6 223.5,669.9 228.4,671.1C233.3,672.4 239.5,674.9 243.9,677.4C248.3,679.9 251.9,682.8 254.8,685.9C257.7,689 260.6,692.8 261.1,696C261.6,699.2 259.7,702.7 258,705.4C256.3,708.1 252.2,711.2 251,712.4Z" fill="none" stroke="#3a3a3a" stroke-width="1.8" stroke-linejoin="miter"/>
<path d="M727.2,724.8C725.3,723.4 718.6,719.5 715.6,716.3C712.6,713.1 710.5,709 709.3,705.4C708.1,701.8 708.1,698.1 708.6,694.5C709.1,690.9 710.3,687.2 712.5,683.6C714.7,680 717.9,676.1 721.8,672.7C725.7,669.3 730.6,666 735.8,663.3C741,660.6 747.2,658.1 752.9,656.3C758.6,654.5 764.3,653.3 770,652.5C775.7,651.7 781.8,651.3 787.2,651.7C792.7,652.1 797.8,653.2 802.7,654.8C807.6,656.3 812.8,658.7 816.7,661C820.6,663.3 823.6,666.1 826.1,668.8C828.6,671.5 830.6,675.6 831.5,677L846.3,673.5L823.7,695.7L792.6,685.6L808.2,681.7C807.3,680.6 805.2,677 802.7,675C800.2,673 797,671 793.4,669.6C789.8,668.2 785,667 780.9,666.5C776.8,666 772.9,666.1 768.5,666.8C764.1,667.4 758.9,668.6 754.5,670.4C750.1,672.2 745.5,674.7 742,677.4C738.5,680.1 735.3,683.6 733.5,686.7C731.7,689.8 730.9,692.9 731.1,696C731.4,699.1 732.9,702.8 735,705.4C737.1,708 742.2,710.8 743.6,711.9Z" fill="none" stroke="#3a3a3a" stroke-width="1.8" stroke-linejoin="miter"/>
<path d="M33.2,507.2 L51.8,484.6 L51.8,494.8 L108,494.8 L108,519.4 L51.8,519.4 L51.8,530Z" fill="#ffffff" stroke="#3a3a3a" stroke-width="2" stroke-linejoin="miter"/>
<path d="M983.8,501.7 L966,479.6 L966,490 L909.3,490 L909.3,514 L966,514 L966,523.8Z" fill="#ffffff" stroke="#3a3a3a" stroke-width="2" stroke-linejoin="miter"/>
<path d="M54.3,360.9L87.4,369L106,397L92.3,389C92.5,390.4 92.4,394.7 93.6,397.6C94.8,400.5 96.4,403 99.5,406.4C102.6,409.8 107.6,414.9 112.1,418C116.6,421.1 122.3,423.4 126.7,424.9C131.1,426.4 135.5,426.6 138.4,426.8C141.3,427 143.2,426 144.2,425.9C146.1,427 151.7,429.8 155.9,432.7C160.1,435.6 167.2,441.6 169.5,443.4C168.8,444 167.5,446 165.6,446.8C163.7,447.6 160.7,448.1 157.8,448.2C154.9,448.3 152,448.3 148.1,447.3C144.2,446.3 139.4,444.5 134.5,442.4C129.6,440.3 123.9,437.5 118.9,434.6C113.9,431.7 108.8,428.1 104.3,424.9C99.8,421.7 95.7,418.5 91.7,415.2C87.7,411.9 83.7,409.1 80.2,405C76.7,400.9 72.9,394.9 70.5,390.5C68.1,386.1 66.1,381.7 65.6,378.3C65.1,374.9 67.3,371.6 67.6,370.2Z" fill="#ffffff" stroke="#3a3a3a" stroke-width="2" stroke-linejoin="miter"/>
<path d="M62.7,657.4L94.5,647.2L109.8,617.3L97.7,626.9C97.6,626 96.6,623.9 97.1,621.2C97.6,618.6 98.6,614.6 100.9,611C103.2,607.4 107.5,602.9 111.1,599.5C114.7,596.1 118.7,592.9 122.5,590.6C126.3,588.3 130.8,586.5 134,585.5C137.2,584.5 139.7,584.7 141.6,584.9C143.5,585.1 144.8,586.5 145.4,586.8C147.5,584.9 154.3,578.8 158.1,575.4C161.9,572 166.6,568 168.3,566.5C167.7,566 166.4,564 164.5,563.3C162.6,562.5 160.3,561.8 156.9,562C153.5,562.2 148.8,562.7 144.1,564.5C139.4,566.3 134,569.5 128.9,572.8C123.8,576.1 118.7,580 113.6,584.3C108.5,588.5 103.2,593.2 98.3,598.3C93.4,603.4 88.2,609.7 84.4,614.8C80.6,619.9 77.5,624.8 75.4,628.8C73.3,632.8 71.8,635.8 71.6,639C71.4,642.2 73.8,646.4 74.2,647.9Z" fill="#ffffff" stroke="#3a3a3a" stroke-width="2" stroke-linejoin="miter"/>
<path d="M958.4,356.7L925.3,364.1L907.5,392.7L920.2,385.1C920.2,386.1 921.1,388.4 920.5,390.8C919.9,393.2 918.8,396.4 916.4,399.7C914,403 909.8,407.5 906.2,410.5C902.6,413.5 898.8,415.6 894.8,417.5C890.8,419.4 885.7,421.2 882.1,422C878.5,422.8 875.4,422.4 873.2,422.2C871,422 869.5,420.9 868.7,420.7C866.5,422.2 859.5,426.5 855.4,429.6C851.3,432.7 846.1,437.8 844.2,439.4C845,439.9 846.5,441.6 849,442.3C851.5,443 855.2,443.8 859.2,443.6C863.2,443.4 867.9,442.7 873.2,441.1C878.5,439.5 885.1,437.2 891,434.1C896.9,431 903.3,426.9 908.8,422.6C914.3,418.4 919.4,413.3 924.1,408.6C928.8,403.9 933.2,399.3 936.8,394.6C940.4,389.9 943.8,384.6 945.7,380.6C947.6,376.6 948.1,373 948.2,370.4C948.3,367.8 946.6,365.6 946.3,364.7Z" fill="#ffffff" stroke="#3a3a3a" stroke-width="2" stroke-linejoin="miter"/>
<path d="M987.8,646.6L955.3,639.6L935.6,612.3L949,619.9C949.1,619 950.2,617.1 949.6,614.8C949,612.5 947.6,609.1 945.2,605.9C942.8,602.7 938.8,598.8 935,595.7C931.2,592.6 926.5,589.6 922.3,587.4C918,585.2 912.9,583.3 909.5,582.4C906.1,581.5 904.1,581.5 901.9,581.7C899.7,581.9 897.2,583.3 896.2,583.6C894.2,582.2 888.2,578.4 884.1,575.4C880,572.4 873.5,567.4 871.4,565.8C872,565.2 873.1,562.9 875.2,562C877.3,561.1 880.5,560.7 884.1,560.7C887.7,560.7 891.5,560.6 896.8,562C902.1,563.4 909.5,565.9 915.9,569C922.3,572.1 928.6,575.9 935,580.4C941.4,584.9 948.6,590.6 954.1,595.7C959.6,600.8 964.5,606.3 968.1,611C971.7,615.7 974.1,620.1 975.7,623.7C977.3,627.3 977.7,629.9 977.6,632.6C977.5,635.4 975.4,638.9 975,640.2Z" fill="#ffffff" stroke="#3a3a3a" stroke-width="2" stroke-linejoin="miter"/>
<line x1="282.5" y1="505.9" x2="222" y2="505.9" stroke="#3a3a3a" stroke-width="2" />
<path d="M208.7,505.9 L225,498.3 L225,513.6Z" fill="#3a3a3a"/>
<line x1="732" y1="503.6" x2="794" y2="503.8" stroke="#3a3a3a" stroke-width="2" />
<path d="M807.2,503.8 L791.5,496 L791.5,511Z" fill="#3a3a3a"/>
<path d="M228.2,279.8 L303.7,279.8 L355.5,405" fill="none" stroke="#3a3a3a" stroke-width="1.6"/>
<path d="M779.7,277.4 L728.5,277.4 L681,401" fill="none" stroke="#3a3a3a" stroke-width="1.6"/>
<path d="M335,730.4 L435.6,730.4 L382.5,580" fill="none" stroke="#3a3a3a" stroke-width="1.6"/>
<path d="M686.3,728.8 L585.7,728.8 L633.7,579.5" fill="none" stroke="#3a3a3a" stroke-width="1.6"/>
<g opacity="0.996">
<text x="547" y="56.8" font-size="46" font-weight="bold" fill="#3a3a3a" >8</text>
<text x="249.2" y="258.1" font-size="46" font-weight="bold" fill="#3a3a3a" >9</text>
<text x="749.6" y="255.5" font-size="46" font-weight="bold" fill="#3a3a3a" >9</text>
<text x="330.4 353.9" y="707.2" font-size="46" font-weight="bold" fill="#3a3a3a" clip-path="url(#c1)" >10</text>
<text x="630.8 654.1" y="705.6" font-size="46" font-weight="bold" fill="#3a3a3a" clip-path="url(#c2)" >10</text>
<text x="128.8 156.2" y="523" font-size="52" font-weight="bold" fill="#3a3a3a" clip-path="url(#c3)" >11</text>
<text x="829.3 857.2" y="510" font-size="52" font-weight="bold" fill="#3a3a3a" clip-path="url(#c4)" >11</text>
<text x="433.7 476.2 507.5 527.8 545 557.6" y="857.6" font-size="56" font-weight="normal" fill="#3a3a3a" stroke="#3a3a3a" stroke-width="0.7">Фиг. 2</text>
</g>
</svg>
</body>
</html>
